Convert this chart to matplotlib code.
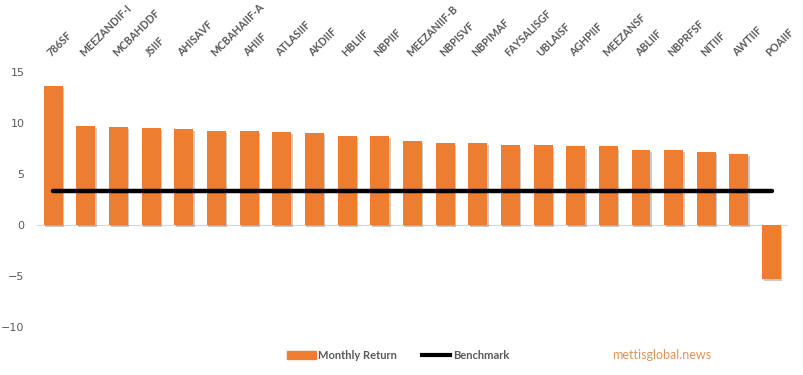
import matplotlib
matplotlib.use('Agg')
import matplotlib.pyplot as plt
import matplotlib.patheffects as pe
from matplotlib.lines import Line2D
from matplotlib.patches import Patch

funds = ['786SF', 'MEEZANDIF-I', 'MCBAHDDF', 'JSIIF', 'AHISAVF', 'MCBAHAIIF-A',
         'AHIIF', 'ATLASIIF', 'AKDIIF', 'HBLIIF', 'NBPIIF', 'MEEZANIIF-B',
         'NBPISVF', 'NBPIMAF', 'FAYSALISGF', 'UBLAISF', 'AGHPIIF', 'MEEZANSF',
         'ABLIIF', 'NBPRFSF', 'NITIIF', 'AWTIIF', 'POAIIF']
monthly_return = [13.6, 9.7, 9.6, 9.5, 9.4, 9.2, 9.2, 9.1, 9.0, 8.7, 8.7, 8.2,
                  8.0, 8.0, 7.8, 7.8, 7.7, 7.7, 7.4, 7.4, 7.2, 7.0, -5.3]
benchmark = [3.3] * len(funds)
y_ticks = [-10, -5, 0, 5, 10, 15]

orange = '#ED7D31'
grey = '#595959'

fig = plt.figure(figsize=(8.04, 3.75), dpi=100)
ax = fig.add_axes([0.046, 0.128, 0.934, 0.68])

x = list(range(len(funds)))
bars = ax.bar(x, monthly_return, width=0.58, color=orange, zorder=2)
for b in bars:
    b.set_path_effects([pe.SimplePatchShadow(offset=(1, -1.5), alpha=0.25), pe.Normal()])
ax.plot(x, benchmark, color='black', lw=3.2, solid_capstyle='round', zorder=3)
ax.axhline(0, color='#D0D8E8', lw=0.8, zorder=1)

ax.set_xlim(-0.5, len(funds) - 0.5)
ax.set_ylim(-10, 15)
ax.set_yticks(y_ticks)
ax.tick_params(axis='y', length=0, labelsize=8, labelcolor=grey, pad=9)

ax.xaxis.tick_top()
ax.set_xticks(x)
ax.set_xticklabels(funds, rotation=45, ha='left', va='bottom', rotation_mode='anchor',
                   fontsize=7.6, fontweight='bold', color=grey, family='Lato')
ax.tick_params(axis='x', length=0, pad=10)

for s in ax.spines.values():
    s.set_visible(False)

handles = [Patch(color=orange), Line2D([0], [0], color='black', lw=3)]
fig.legend(handles, ['Monthly Return', 'Benchmark'], loc='center', bbox_to_anchor=(0.495, 0.053),
           ncol=2, frameon=False, handlelength=2.6, handleheight=0.7, handletextpad=0.2,
           columnspacing=2.2, prop={'family': 'Lato', 'weight': 'bold', 'size': 8},
           labelcolor=grey)

fig.text(0.761, 0.053, 'mettisglobal.news', ha='left', va='center', fontsize=9,
         color='#E0925A', family='Lato')

fig.savefig('out.png', dpi=100)
plt.close()
